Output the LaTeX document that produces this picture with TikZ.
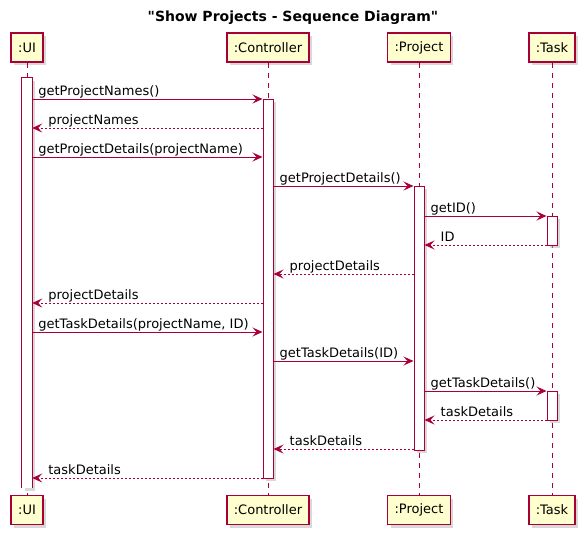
\documentclass[tikz,border=0pt]{standalone}
\usepackage{fontspec}
\setmainfont{DejaVu Sans}
\newfontfamily\titlefont{DejaVu Sans}[Ligatures=TeXOff]
\usepackage{tikz}
\usepackage{xcolor}
\usetikzlibrary{arrows.meta,shadows}

\definecolor{umlred}{HTML}{A80036}
\definecolor{umlfill}{HTML}{FEFECE}

\tikzset{
	actor/.style={draw=umlred, line width=1.5pt, fill=umlfill, minimum height=29pt, inner xsep=7pt, font=\fontsize{13}{15}\selectfont, drop shadow={shadow xshift=3pt, shadow yshift=-3pt, fill=black!30}},
	actbar/.style={fill=white, minimum width=10pt, inner sep=0pt, drop shadow={shadow xshift=3pt, shadow yshift=-3pt, fill=black!30}},
	lifeline/.style={umlred, line width=1pt, dash pattern=on 5pt off 5pt},
	call/.style={umlred, line width=1pt, -{Stealth[length=10pt, width=9pt, inset=4pt]}},
	reply/.style={call, dash pattern=on 2pt off 2pt},
	msg/.style={font=\fontsize{13}{15}\selectfont, inner sep=0pt, anchor=base west},
}

\begin{document}
\begin{tikzpicture}[x=1pt, y=-1pt]
	\useasboundingbox (0,0) rectangle (586,535);
	\node[font=\titlefont\bfseries\fontsize{14}{16}\selectfont] (title) at (293,18) {"Show Projects - Sequence Diagram"};
	% participants, top and bottom
	\foreach \n/\x/\t in {ui/27/:UI, ctrl/268/:Controller, proj/419/:Project, task/552/:Task}
	{
		\node[actor] (\n T) at (\x,47.5) {\t};
		\node[actor] (\n B) at (\x,510) {\t};
		\draw[lifeline] (\n T.south) -- (\n B.north);
	}
	% activations
	\node[actbar, minimum height=410pt] (uiAct) at (27,283) {};
	\draw[umlred, line width=1pt] (uiAct.south west) -- (uiAct.north west) -- (uiAct.north east) -- (uiAct.south east);
	\foreach \n/\x/\y/\h in {ctrlAct/268/288.5/379, projAct/419/318/264, taskActA/552/230.5/29, taskActB/552/405.5/29}
	{
		\node[actbar, draw=umlred, line width=1pt, minimum height=\h pt] (\n) at (\x,\y) {};
	}
	% calls
	\foreach \y/\a/\b/\t in {99/uiAct/ctrlAct/getProjectNames(), 157/uiAct/ctrlAct/getProjectDetails(projectName), 186/ctrlAct/projAct/getProjectDetails(), 216/projAct/taskActA/getID(), 332/uiAct/ctrlAct/{getTaskDetails(projectName, ID)}, 361/ctrlAct/projAct/getTaskDetails(ID), 391/projAct/taskActB/getTaskDetails()}
	{
		\draw[call] (\a.east |- 0,\y) -- (\b.west |- 0,\y);
		\path (\a.east |- 0,\y) ++(6,-4) node[msg] (c\y) {\t};
	}
	% replies
	\foreach \y/\a/\b/\t in {128/ctrlAct/uiAct/projectNames, 245/taskActA/projAct/ID, 274/projAct/ctrlAct/projectDetails, 303/ctrlAct/uiAct/projectDetails, 420/taskActB/projAct/taskDetails, 449/projAct/ctrlAct/taskDetails, 478/ctrlAct/uiAct/taskDetails}
	{
		\draw[reply] (\a.west |- 0,\y) -- (\b.east |- 0,\y);
		\path (\b.east |- 0,\y) ++(16,-4) node[msg] (r\y) {\t};
	}
\end{tikzpicture}
\end{document}
